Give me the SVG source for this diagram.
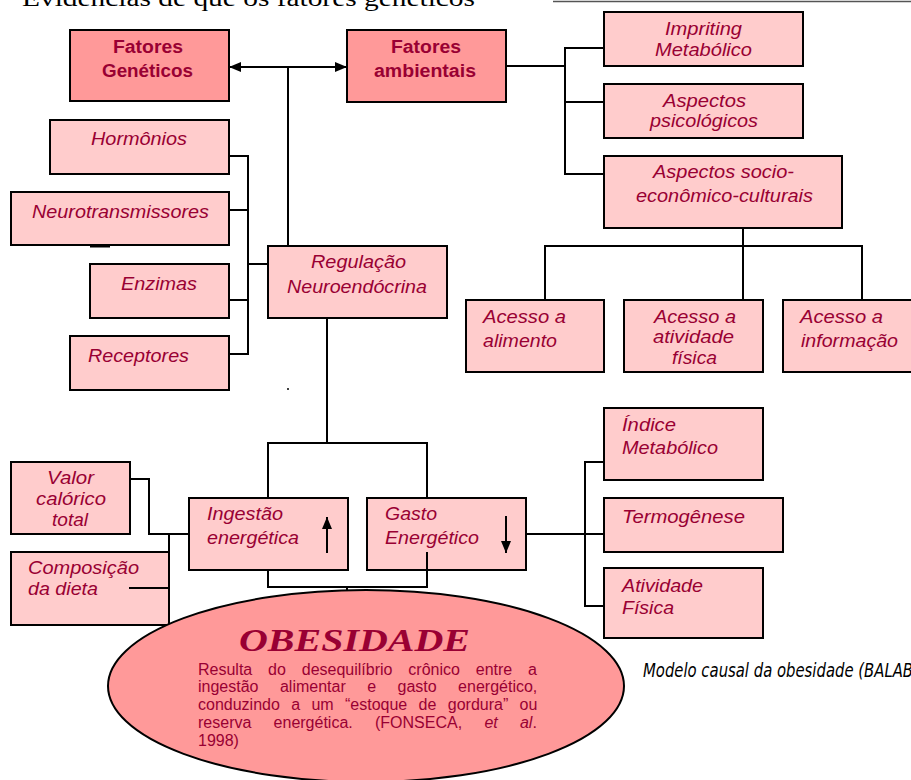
<svg xmlns="http://www.w3.org/2000/svg" width="911" height="780" viewBox="0 0 911 780">
<style>
.box{stroke:#000;stroke-width:2}
.lt{fill:#FFCCCC}
.dk{fill:#FF9999}
.t{font-family:'Liberation Sans',Arial,sans-serif;font-style:italic;font-size:17.5px;fill:#990033}
.b{font-family:'Liberation Sans',Arial,sans-serif;font-weight:bold;font-size:18px;fill:#990033}
.p{font-family:'Liberation Sans',Arial,sans-serif;font-size:16px;fill:#990033}
.ln{stroke:#000;stroke-width:2;fill:none}
</style>
<defs>
<marker id="ah" viewBox="0 0 12 10" refX="12" refY="5" markerWidth="12" markerHeight="10" markerUnits="userSpaceOnUse" orient="auto">
<path d="M0,0 L12,5 L0,10 z" fill="#000"/>
</marker>
</defs>
<rect width="911" height="780" fill="#fff"/>
<text x="22" y="6" font-family="'Liberation Serif',serif" font-size="23" fill="#000" textLength="453" lengthAdjust="spacingAndGlyphs">Evidências de que os fatores genéticos</text>
<line x1="553" y1="1.5" x2="911" y2="1.5" stroke="#555" stroke-width="1.5"/>

<g id="connectors">
<line class="ln" x1="288" y1="67" x2="229" y2="67" marker-end="url(#ah)"/>
<line class="ln" x1="288" y1="67" x2="347" y2="67" marker-end="url(#ah)"/>
<line class="ln" x1="288" y1="66" x2="288" y2="246"/>
<polyline class="ln" points="506,66 565,66"/>
<polyline class="ln" points="604,48 565,48 565,174 604,174"/>
<line class="ln" x1="565" y1="102" x2="604" y2="102"/>
<line class="ln" x1="743" y1="228" x2="743" y2="300"/>
<polyline class="ln" points="545,300 545,246 862,246 862,300"/>
<polyline class="ln" points="229,156 248,156 248,354 229,354"/>
<line class="ln" x1="229" y1="210" x2="248" y2="210"/>
<line class="ln" x1="229" y1="300" x2="248" y2="300"/>
<line class="ln" x1="248" y1="264" x2="268" y2="264"/>
<line x1="90" y1="246" x2="110" y2="246" stroke="#000" stroke-width="3"/>
<line class="ln" x1="327" y1="318" x2="327" y2="443"/>
<polyline class="ln" points="268,498 268,443 427,443 427,498"/>
<circle cx="288" cy="389" r="1" fill="#000"/>
<polyline class="ln" points="130,479 149,479 149,534 189,534"/>
<polyline class="ln" points="169,534 169,588 129,588"/>
<polyline class="ln" points="268,570 268,587 427,587 427,552"/>
<line class="ln" x1="347" y1="587" x2="347" y2="623" marker-end="url(#ah)"/>
<line class="ln" x1="526" y1="534" x2="604" y2="534"/>
<polyline class="ln" points="604,462 585,462 585,606 604,606"/>
</g>

<g id="fatores-geneticos">
<rect class="box dk" x="70" y="30" width="159" height="71"/>
<text class="b" x="113" y="53" textLength="70" lengthAdjust="spacingAndGlyphs">Fatores</text>
<text class="b" x="102" y="77" textLength="91" lengthAdjust="spacingAndGlyphs">Genéticos</text>
</g>
<g id="fatores-ambientais">
<rect class="box dk" x="347" y="30" width="159" height="72"/>
<text class="b" x="391" y="53" textLength="70" lengthAdjust="spacingAndGlyphs">Fatores</text>
<text class="b" x="374" y="77" textLength="102" lengthAdjust="spacingAndGlyphs">ambientais</text>
</g>
<g id="impriting">
<rect class="box lt" x="604" y="12" width="199" height="54"/>
<text class="t" x="665" y="35" textLength="77" lengthAdjust="spacingAndGlyphs">Impriting</text>
<text class="t" x="655" y="56" textLength="97" lengthAdjust="spacingAndGlyphs">Metabólico</text>
</g>
<g id="aspectos-psicologicos">
<rect class="box lt" x="604" y="84" width="199" height="54"/>
<text class="t" x="663" y="107" textLength="83" lengthAdjust="spacingAndGlyphs">Aspectos</text>
<text class="t" x="650" y="127" textLength="108" lengthAdjust="spacingAndGlyphs">psicológicos</text>
</g>
<g id="aspectos-socio">
<rect class="box lt" x="604" y="156" width="238" height="72"/>
<text class="t" x="653" y="178" textLength="141" lengthAdjust="spacingAndGlyphs">Aspectos socio-</text>
<text class="t" x="636" y="202" textLength="177" lengthAdjust="spacingAndGlyphs">econômico-culturais</text>
</g>
<g id="acesso-alimento">
<rect class="box lt" x="466" y="300" width="138" height="72"/>
<text class="t" x="483" y="323" textLength="83" lengthAdjust="spacingAndGlyphs">Acesso a</text>
<text class="t" x="483" y="347" textLength="74" lengthAdjust="spacingAndGlyphs">alimento</text>
</g>
<g id="acesso-atividade">
<rect class="box lt" x="624" y="300" width="139" height="72"/>
<text class="t" x="654" y="323" textLength="82" lengthAdjust="spacingAndGlyphs">Acesso a</text>
<text class="t" x="653" y="343" textLength="81" lengthAdjust="spacingAndGlyphs">atividade</text>
<text class="t" x="672" y="364" textLength="45" lengthAdjust="spacingAndGlyphs">física</text>
</g>
<g id="acesso-informacao">
<rect class="box lt" x="783" y="300" width="140" height="72"/>
<text class="t" x="800" y="323" textLength="83" lengthAdjust="spacingAndGlyphs">Acesso a</text>
<text class="t" x="801" y="347" textLength="97" lengthAdjust="spacingAndGlyphs">informação</text>
</g>
<g id="hormonios">
<rect class="box lt" x="50" y="120" width="179" height="54"/>
<text class="t" x="91" y="145" textLength="96" lengthAdjust="spacingAndGlyphs">Hormônios</text>
</g>
<g id="neurotransmissores">
<rect class="box lt" x="11" y="192" width="218" height="53"/>
<text class="t" x="32" y="218" textLength="177" lengthAdjust="spacingAndGlyphs">Neurotransmissores</text>
</g>
<g id="enzimas">
<rect class="box lt" x="90" y="264" width="139" height="54"/>
<text class="t" x="121" y="290" textLength="76" lengthAdjust="spacingAndGlyphs">Enzimas</text>
</g>
<g id="receptores">
<rect class="box lt" x="70" y="336" width="159" height="54"/>
<text class="t" x="88" y="362" textLength="101" lengthAdjust="spacingAndGlyphs">Receptores</text>
</g>
<g id="regulacao">
<rect class="box lt" x="268" y="246" width="179" height="72"/>
<text class="t" x="311" y="268" textLength="95" lengthAdjust="spacingAndGlyphs">Regulação</text>
<text class="t" x="287" y="293" textLength="140" lengthAdjust="spacingAndGlyphs">Neuroendócrina</text>
</g>
<g id="valor-calorico">
<rect class="box lt" x="11" y="462" width="119" height="72"/>
<text class="t" x="47" y="484" textLength="47" lengthAdjust="spacingAndGlyphs">Valor</text>
<text class="t" x="36" y="505" textLength="70" lengthAdjust="spacingAndGlyphs">calórico</text>
<text class="t" x="52" y="526" textLength="36" lengthAdjust="spacingAndGlyphs">total</text>
</g>
<g id="composicao">
<rect class="box lt" x="11" y="552" width="158" height="73"/>
<text class="t" x="28" y="574" textLength="111" lengthAdjust="spacingAndGlyphs">Composição</text>
<text class="t" x="28" y="595" textLength="70" lengthAdjust="spacingAndGlyphs">da dieta</text>
<line class="ln" x1="129" y1="588" x2="169" y2="588"/>
</g>
<g id="ingestao">
<rect class="box lt" x="189" y="498" width="159" height="72"/>
<text class="t" x="207" y="520" textLength="76" lengthAdjust="spacingAndGlyphs">Ingestão</text>
<text class="t" x="207" y="544" textLength="92" lengthAdjust="spacingAndGlyphs">energética</text>
<line class="ln" x1="327" y1="553" x2="327" y2="517" marker-end="url(#ah)"/>
</g>
<g id="gasto">
<rect class="box lt" x="367" y="498" width="159" height="72"/>
<text class="t" x="385" y="520" textLength="52" lengthAdjust="spacingAndGlyphs">Gasto</text>
<text class="t" x="385" y="544" textLength="94" lengthAdjust="spacingAndGlyphs">Energético</text>
<line class="ln" x1="506" y1="516" x2="506" y2="553" marker-end="url(#ah)"/>
<line class="ln" x1="427" y1="552" x2="427" y2="570"/>
</g>
<g id="indice">
<rect class="box lt" x="604" y="408" width="159" height="72"/>
<text class="t" x="622" y="431" textLength="54" lengthAdjust="spacingAndGlyphs">Índice</text>
<text class="t" x="622" y="454" textLength="96" lengthAdjust="spacingAndGlyphs">Metabólico</text>
</g>
<g id="termogenese">
<rect class="box lt" x="604" y="498" width="179" height="54"/>
<text class="t" x="622" y="523" textLength="123" lengthAdjust="spacingAndGlyphs">Termogênese</text>
</g>
<g id="atividade-fisica">
<rect class="box lt" x="604" y="568" width="159" height="70"/>
<text class="t" x="622" y="592" textLength="81" lengthAdjust="spacingAndGlyphs">Atividade</text>
<text class="t" x="622" y="614" textLength="52" lengthAdjust="spacingAndGlyphs">Física</text>
</g>
<g id="obesidade">
<ellipse class="box dk" cx="366" cy="686" rx="258" ry="96"/>
<text x="239" y="651" font-family="'Liberation Serif',serif" font-weight="bold" font-style="italic" font-size="32" fill="#990033" textLength="231" lengthAdjust="spacingAndGlyphs">OBESIDADE</text>
<text class="p" x="198" y="675" word-spacing="11.4">Resulta do desequilíbrio crônico entre a</text>
<text class="p" x="198" y="692" word-spacing="17">ingestão alimentar e gasto energético,</text>
<text class="p" x="198" y="710" word-spacing="6.9">conduzindo a um “estoque de gordura” ou</text>
<text class="p" x="198" y="728" word-spacing="17.8">reserva energética. (FONSECA, <tspan font-style="italic">et al</tspan>.</text>
<text class="p" x="198" y="746">1998)</text>
</g>
<text x="643" y="677" font-family="'DejaVu Sans',sans-serif" font-style="italic" font-size="19" fill="#000" textLength="270" lengthAdjust="spacingAndGlyphs">Modelo causal da obesidade (BALAB</text>
</svg>
